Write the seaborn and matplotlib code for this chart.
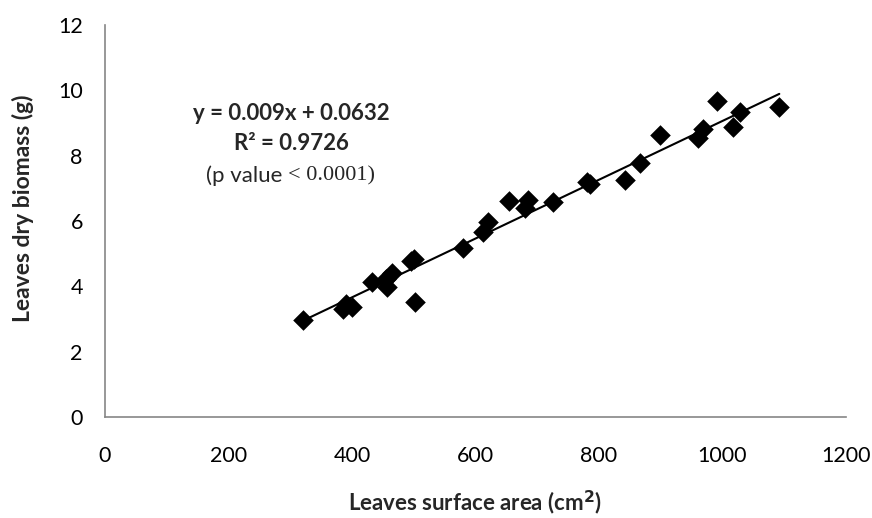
import matplotlib
matplotlib.use('Agg')
import numpy as np
import pandas as pd
import seaborn as sns
import matplotlib.pyplot as plt

# Data
surface_area = [320, 385, 390, 400, 432, 455, 457, 465, 495, 500, 502,
                580, 612, 620, 654, 680, 685, 726, 780, 786, 842, 866,
                898, 960, 968, 991, 1017, 1028, 1092]
dry_biomass = [2.98, 3.32, 3.45, 3.36, 4.13, 4.22, 3.97, 4.42, 4.78, 4.85, 3.52,
               5.16, 5.65, 5.98, 6.62, 6.40, 6.65, 6.57, 7.18, 7.12, 7.25, 7.77,
               8.64, 8.55, 8.82, 9.68, 8.88, 9.33, 9.49]

slope = 0.009
intercept = 0.0632

W, H = 872, 518
sns.set_style("white")
plt.rcParams['font.family'] = ['Lato', 'DejaVu Sans']

df = pd.DataFrame({"area": surface_area, "biomass": dry_biomass})

fig = plt.figure(figsize=(W / 100, H / 100), dpi=100)
ax = fig.add_axes([105 / W, 1 - 417 / H, (846 - 105) / W, (417 - 25) / H])

# trend line from the reported equation
xs = np.array([df["area"].min(), df["area"].max()])
sns.lineplot(x=xs, y=slope * xs + intercept, ax=ax, color="black", linewidth=1.5)

sns.scatterplot(data=df, x="area", y="biomass", ax=ax, marker="D", s=110,
                color="black", edgecolor="black", linewidth=0, zorder=3)

ax.set_xlim(0, 1200)
ax.set_ylim(0, 12)
ax.set_xticks(range(0, 1201, 200))
ax.set_yticks(range(0, 13, 2))
ax.set_xlabel("")
ax.set_ylabel("")

for side in ["top", "right"]:
    ax.spines[side].set_visible(False)
for side in ["left", "bottom"]:
    ax.spines[side].set_color("#868686")
    ax.spines[side].set_linewidth(1.2)
ax.tick_params(axis="both", direction="out", length=5, width=1.2, color="#868686",
               labelsize=15.5, labelcolor="black")
ax.tick_params(axis="y", pad=11)
ax.tick_params(axis="x", pad=16)

fig.text(23 / W, 1 - 208 / H, "Leaves dry biomass (g)", rotation=90, ha="center",
         va="center", fontsize=16.5, fontweight="bold")
fig.text(475 / W, 1 - 511 / H, "Leaves surface area (cm$^\\mathbf{2}$)", ha="center",
         va="baseline", fontsize=16, fontweight="bold")

fig.text(291 / W, 1 - 113 / H, "y = 0.009x + 0.0632", ha="center", va="center",
         fontsize=16, fontweight="bold")
fig.text(291 / W, 1 - 144 / H, "R² = 0.9726", ha="center", va="center",
         fontsize=16, fontweight="bold")
fig.text(288 / W, 1 - 176 / H, "(p value ", ha="right", va="center", fontsize=16)
fig.text(288 / W, 1 - 176 / H, "< 0.0001)", ha="left", va="center", fontsize=16,
         family=["Liberation Serif", "DejaVu Serif"])

fig.savefig("out.png", dpi=100)
